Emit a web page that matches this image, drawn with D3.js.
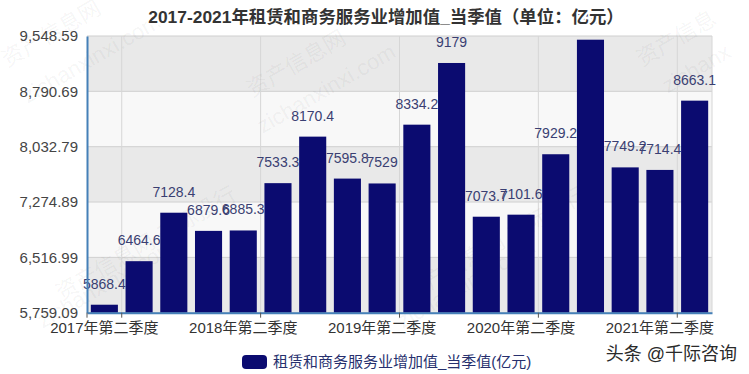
<!DOCTYPE html>
<html lang="zh">
<head>
<meta charset="UTF-8" />
<title>租赁和商务服务业增加值</title>
<script src="https://d3js.org/d3.v7.min.js"></script>
<style>
  body { margin: 0; background: #fff; }
  text { font-family: "Liberation Sans", Arial, "Noto Sans CJK SC", sans-serif; }
</style>
</head>
<body>
<svg width="749" height="374"></svg>
<script>
const categories = [
  "2017年第二季度", "2017年第三季度", "2017年第四季度",
  "2018年第一季度", "2018年第二季度", "2018年第三季度", "2018年第四季度",
  "2019年第一季度", "2019年第二季度", "2019年第三季度", "2019年第四季度",
  "2020年第一季度", "2020年第二季度", "2020年第三季度", "2020年第四季度",
  "2021年第一季度", "2021年第二季度", "2021年第三季度"
];
const values = [
  5868.4, 6464.6, 7128.4,
  6879.6, 6885.3, 7533.3, 8170.4,
  7595.8, 7529, 8334.2, 9179,
  7073.7, 7101.6, 7929.2, 9498,
  7749.2, 7714.4, 8663.1
];
const yTicks = [5759.09, 6516.99, 7274.89, 8032.79, 8790.69, 9548.59];
const seriesName = "租赁和商务服务业增加值_当季值(亿元)";
const title = "2017-2021年租赁和商务服务业增加值_当季值（单位：亿元）";

const svg = d3.select("svg");
const plotL = 87, plotR = 712, plotT = 36, plotB = 312.7;
const barColor = "#0b0b70";
const axisColor = "#4580b8";

const x = d3.scaleBand().domain(categories).range([plotL, plotR]);
const y = d3.scaleLinear().domain([yTicks[0], yTicks[yTicks.length - 1]]).range([plotB, plotT]);

// faint watermarks
const marks = [
  [55, 40, "资产信息网"], [95, 65, "zichanxinxi.com"], [300, 70, "资产信息网"], [330, 95, "zichanxinxi.com"],
  [680, 45, "资产信息"], [700, 75, "zichanx"], [150, 250, "资产信息网 千际投行"], [110, 290, "zichanxinxi.com"],
  [500, 250, "资产信息网 千际投行"], [470, 290, "zichanxinxi.com"]
];

// split area bands
const bands = d3.pairs(yTicks);
svg.append("g").selectAll("rect").data(bands).join("rect")
  .attr("x", plotL).attr("width", plotR - plotL)
  .attr("y", d => y(d[1])).attr("height", d => y(d[0]) - y(d[1]))
  .attr("fill", (d, i) => i % 2 === 0 ? "#e9e9e9" : "#f8f8f8");

// grid lines
svg.append("g").selectAll("line").data(yTicks).join("line")
  .attr("x1", plotL).attr("x2", plotR)
  .attr("y1", d => y(d)).attr("y2", d => y(d))
  .attr("stroke", "#cfcfcf").attr("stroke-width", 1);

const tickCats = categories.filter((d, i) => i % 4 === 0);
svg.append("g").selectAll("line").data(tickCats).join("line")
  .attr("x1", d => x(d) + x.bandwidth()).attr("x2", d => x(d) + x.bandwidth())
  .attr("y1", plotT).attr("y2", plotB)
  .attr("stroke", "#d6d6d6").attr("stroke-width", 1);
svg.append("line").attr("x1", plotR).attr("x2", plotR).attr("y1", plotT).attr("y2", plotB)
  .attr("stroke", "#d6d6d6");

svg.append("g").selectAll("text").data(marks).join("text")
  .attr("transform", d => `translate(${d[0]},${d[1]}) rotate(-30)`)
  .attr("text-anchor", "middle")
  .attr("font-size", 22)
  .attr("fill", "#000").attr("fill-opacity", 0.05)
  .text(d => d[2]);

// bars
svg.append("g").selectAll("rect").data(values).join("rect")
  .attr("x", (d, i) => x(categories[i]) + x.bandwidth() * 0.11)
  .attr("width", x.bandwidth() * 0.78)
  .attr("y", d => y(d))
  .attr("height", d => plotB - y(d))
  .attr("fill", barColor);

// value labels
svg.append("g").selectAll("text").data(values).join("text")
  .attr("x", (d, i) => x(categories[i]) + x.bandwidth() / 2)
  .attr("y", d => y(d) - 16)
  .attr("text-anchor", "middle")
  .attr("font-size", 14)
  .attr("fill", "#3a3f72")
  .text(d => d);

// axes
const yAxis = svg.append("g").attr("transform", `translate(${plotL},0)`)
  .call(d3.axisLeft(y).tickValues(yTicks).tickFormat(d3.format(",.2f")).tickSize(0).tickPadding(9));
yAxis.select(".domain").attr("stroke", axisColor).attr("stroke-width", 2);
yAxis.selectAll("text").attr("font-size", 15).attr("fill", "#444");

const xAxis = svg.append("g").attr("transform", `translate(0,${plotB})`)
  .call(d3.axisBottom(x).tickValues(tickCats).tickSize(0).tickPadding(10));
xAxis.select(".domain").attr("stroke", axisColor).attr("stroke-width", 2);
xAxis.selectAll("text").attr("font-size", 15).attr("fill", "#333");
xAxis.selectAll(".tick line").remove();
xAxis.append("g").selectAll("line").data([null, ...tickCats]).join("line")
  .attr("x1", d => d === null ? plotL : x(d) + x.bandwidth())
  .attr("x2", d => d === null ? plotL : x(d) + x.bandwidth())
  .attr("y1", 0).attr("y2", 5)
  .attr("stroke", "#555");

// title (drawn over the clipped top label)
svg.append("text")
  .attr("x", 386).attr("y", 23)
  .attr("text-anchor", "middle")
  .attr("font-size", 17.4).attr("font-weight", "bold")
  .attr("fill", "#333")
  .attr("stroke", "#fff").attr("stroke-width", 4).attr("paint-order", "stroke")
  .text(title);

// legend
const lg = svg.append("g");
lg.append("rect").attr("x", 242).attr("y", 355).attr("width", 25).attr("height", 14).attr("rx", 4)
  .attr("fill", barColor);
lg.append("text").attr("x", 273).attr("y", 367).attr("font-size", 15).attr("fill", "#27306e")
  .text(seriesName);

// source stamp
svg.append("text").attr("x", 737).attr("y", 360).attr("text-anchor", "end")
  .attr("font-size", 18).attr("fill", "#2a2a2a")
  .attr("stroke", "#fff").attr("stroke-width", 2).attr("paint-order", "stroke")
  .text("头条 @千际咨询");
</script>
</body>
</html>
